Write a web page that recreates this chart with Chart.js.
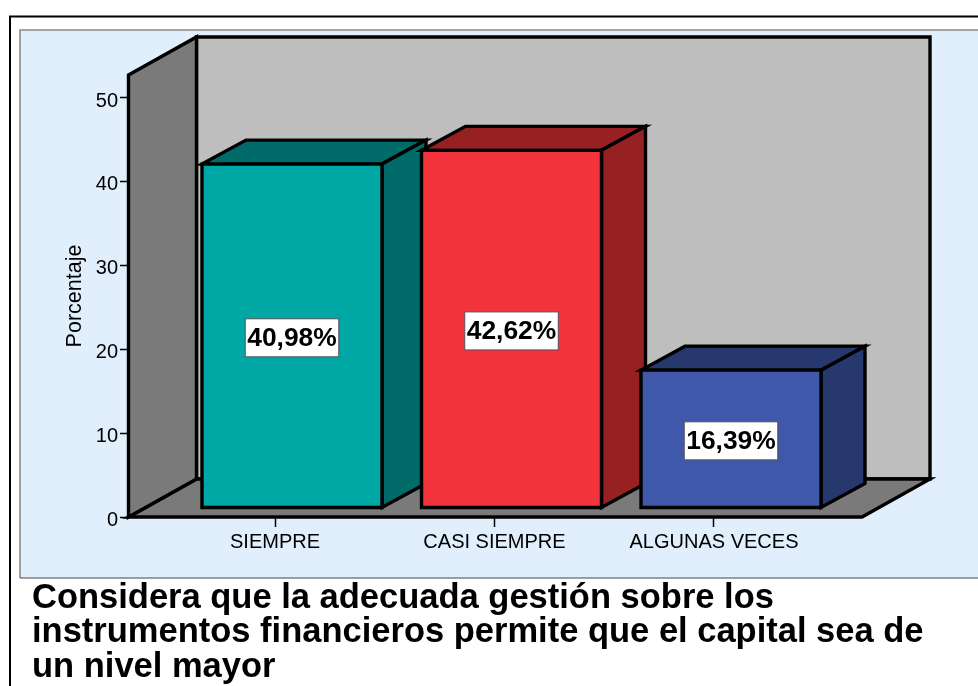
<!DOCTYPE html>
<html><head><meta charset="utf-8">
<style>html,body{margin:0;padding:0;background:#fff}canvas{display:block}</style>
<script src="https://cdn.jsdelivr.net/npm/chart.js@4"></script>
</head><body>
<canvas id="c" width="978" height="686"></canvas>
<script>
const categories = ["SIEMPRE", "CASI SIEMPRE", "ALGUNAS VECES"];
const positions = [0, 1, 2];
const percentages = [40.98, 42.62, 16.39];
const yTickValues = [0, 10, 20, 30, 40, 50];
const yAxisTitle = "Porcentaje";
const chartTitle = ["Considera que la adecuada gestión sobre los",
  "instrumentos financieros permite que el capital sea de",
  "un nivel mayor"];
const frontColors = ["#00A8A5", "#F2333B", "#3F58AA"];
const sideColors = ["#006B69", "#962022", "#27386E"];
const FONT = "'Liberation Sans', Arial, sans-serif";

const BAR = {dx: 44, dy: -24, lw: 3.4};
const WALL = {dx: 68, dy: -38, lw: 3.4};

function poly(ctx, pts, fill, lw) {
  ctx.beginPath();
  pts.forEach((p, i) => i ? ctx.lineTo(p[0], p[1]) : ctx.moveTo(p[0], p[1]));
  ctx.closePath();
  if (fill) { ctx.fillStyle = fill; ctx.fill(); }
  if (lw) { ctx.lineWidth = lw; ctx.strokeStyle = "#000"; ctx.lineJoin = "miter"; ctx.stroke(); }
}

const scene = {
  id: "scene",
  beforeDraw(chart) {
    const ctx = chart.ctx, W = chart.width, H = chart.height;
    ctx.save();
    ctx.fillStyle = "#fff"; ctx.fillRect(0, 0, W, H);
    // outer frame
    ctx.strokeStyle = "#000"; ctx.lineWidth = 2;
    ctx.beginPath(); ctx.moveTo(10, H); ctx.lineTo(10, 16.5); ctx.lineTo(W, 16.5); ctx.stroke();
    // panel
    ctx.fillStyle = "#E1EEFB"; ctx.fillRect(20, 30, W - 20, 548);
    ctx.strokeStyle = "#8a8a8a"; ctx.lineWidth = 1.6;
    ctx.beginPath(); ctx.moveTo(20, 578); ctx.lineTo(20, 30); ctx.lineTo(W, 30); ctx.stroke();
    ctx.strokeStyle = "#444"; ctx.lineWidth = 1.2;
    ctx.beginPath(); ctx.moveTo(20, 578); ctx.lineTo(W, 578); ctx.stroke();
    // walls and floor
    const a = chart.chartArea, d = WALL;
    const L = a.left + 0.5, R = a.right, T = a.top, B = a.bottom;
    poly(ctx, [[L + d.dx, T + d.dy], [R + d.dx, T + d.dy], [R + d.dx, B + d.dy], [L + d.dx, B + d.dy]], "#BEBEBE", d.lw);
    poly(ctx, [[L, B], [L + d.dx, B + d.dy], [R + d.dx, B + d.dy], [R, B]], "#7A7A7A", d.lw);
    poly(ctx, [[L, T], [L + d.dx, T + d.dy], [L + d.dx, B + d.dy], [L, B]], "#7A7A7A", d.lw);
    ctx.restore();
  },
  beforeDatasetsDraw(chart) {
    const ctx = chart.ctx, d = BAR;
    ctx.save();
    chart.getDatasetMeta(0).data.forEach((bar, i) => {
      const l = bar.x - bar.width / 2, r = bar.x + bar.width / 2, t = bar.y, b = bar.base;
      poly(ctx, [[l, t], [l + d.dx, t + d.dy], [r + d.dx, t + d.dy], [r, t]], sideColors[i], d.lw);
      poly(ctx, [[r, t], [r + d.dx, t + d.dy], [r + d.dx, b + d.dy], [r, b]], sideColors[i], d.lw);
    });
    ctx.restore();
  },
  afterDatasetsDraw(chart) {
    const ctx = chart.ctx;
    ctx.save();
    chart.getDatasetMeta(0).data.forEach((bar, i) => {
      const l = bar.x - bar.width / 2, r = bar.x + bar.width / 2, t = bar.y, b = bar.base;
      poly(ctx, [[l, t], [r, t], [r, b], [l, b]], null, BAR.lw);
    });
    ctx.font = "bold 26.4px " + FONT;
    ctx.textAlign = "center"; ctx.textBaseline = "middle";
    chart.getDatasetMeta(0).data.forEach((bar, i) => {
      const txt = percentages[i].toFixed(2).replace(".", ",") + "%";
      const w = ctx.measureText(txt).width + 4, h = 38;
      const cx = bar.x, cy = (bar.y + bar.base) / 2 + 2;
      ctx.fillStyle = "#fff"; ctx.fillRect(cx - w / 2, cy - h / 2, w, h);
      ctx.strokeStyle = "#555"; ctx.lineWidth = 1;
      ctx.strokeRect(cx - w / 2, cy - h / 2, w, h);
      ctx.fillStyle = "#000"; ctx.fillText(txt, cx, cy + 1);
    });
    ctx.restore();
  }
};

const PX_PER_UNIT = 8.38, PX_PER_CAT = 219.5;
const yMax = 442 / PX_PER_UNIT, barLift = 9.5 / PX_PER_UNIT;
const xMin = -147 / PX_PER_CAT, xMax = 2 + 148 / PX_PER_CAT, barShift = 17 / PX_PER_CAT;

new Chart(document.getElementById("c"), {
  type: "bar",
  data: {
    datasets: [{
      data: positions.map((p, i) => ({x: p, y: percentages[i]})),
      backgroundColor: frontColors,
      borderWidth: 0,
      barThickness: 180,
      xAxisID: "x2",
      yAxisID: "y2"
    }]
  },
  plugins: [scene],
  options: {
    responsive: false,
    animation: false,
    layout: {padding: {left: 32, right: 16, top: 75, bottom: 1.5}},
    plugins: {
      legend: {display: false},
      tooltip: {enabled: false},
      title: {
        display: true, text: chartTitle, position: "bottom", align: "start", color: "#000",
        font: {family: FONT, size: 34.5, weight: "bold", lineHeight: 1.0},
        padding: {top: 0, bottom: 0}
      }
    },
    scales: {
      x: {
        type: "linear", min: xMin, max: xMax, position: "bottom", offset: false,
        afterBuildTicks(s) { s.ticks = positions.map(v => ({value: v})); },
        afterFit(s) { s.height = 64; },
        grid: {offset: false, drawOnChartArea: false, drawTicks: true, tickLength: 10, tickColor: "#000", tickWidth: 1.5},
        border: {display: false},
        ticks: {
          callback: v => categories[v], color: "#000", autoSkip: false, maxRotation: 0, padding: 3,
          font: {family: FONT, size: 20}
        }
      },
      x2: {type: "linear", display: false, offset: false, grid: {offset: false}, min: xMin - barShift, max: xMax - barShift},
      y: {
        type: "linear", min: 0, max: yMax, position: "left",
        afterBuildTicks(s) { s.ticks = yTickValues.map(v => ({value: v})); },
        afterFit(s) { s.width = 96; },
        grid: {drawOnChartArea: false, drawTicks: true, tickLength: 8, tickColor: "#000", tickWidth: 1.5},
        border: {display: false},
        title: {display: true, text: yAxisTitle, color: "#000", font: {family: FONT, size: 21.5}, padding: {top: 30, bottom: 0}},
        ticks: {color: "#000", padding: 2, labelOffset: 3, font: {family: FONT, size: 20}}
      },
      y2: {
        type: "linear", display: true, position: "right", min: -barLift, max: yMax - barLift,
        afterFit(s) { s.width = 100; },
        grid: {display: false}, border: {display: false}, ticks: {display: false}
      }
    }
  }
});
</script>
</body></html>
